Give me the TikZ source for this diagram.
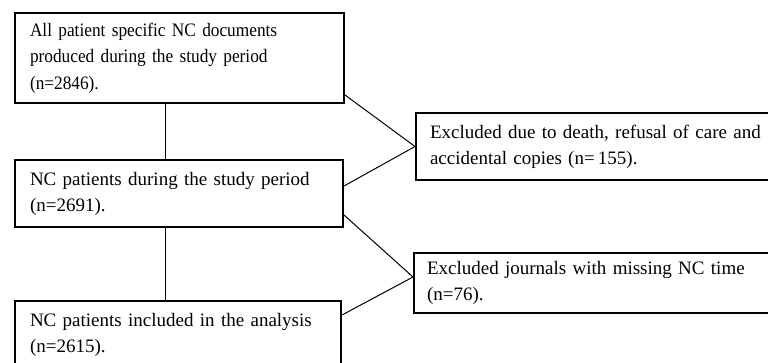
\documentclass[tikz,border=0pt]{standalone}
\usepackage{fontspec}
\setmainfont{Liberation Serif}
\newfontfamily\condserif[FakeStretch=0.91]{Liberation Serif}
\begin{document}
\begin{tikzpicture}[x=1bp,y=-1bp,
  box/.style={draw=black,line width=2bp,rectangle,anchor=north west,
    inner xsep=15bp,inner ysep=0bp,align=left,
    font=\fontsize{19bp}{26bp}\selectfont},
  conn/.style={draw=black,line width=1bp}]
\useasboundingbox (0,0) rectangle (768,362);
\clip (0,0) rectangle (768,362);
\fill[white] (0,0) rectangle (768,362);
\node[box,font=\condserif\fontsize{19bp}{26.5bp}\selectfont,minimum width=329bp,minimum height=90bp,text width=299bp] (b1) at (14,12)
  {All patient specific NC documents\\produced during the study period\\(n=2846).};
\node[box,minimum width=328bp,minimum height=67bp,text width=298bp] (b2) at (14,159)
  {NC patients during the study period\\(n=2691).};
\node[box,minimum width=326bp,minimum height=67bp,text width=296bp] (b3) at (14,300)
  {NC patients included in the analysis\\(n=2615).};
\node[box,inner xsep=14bp,minimum width=370bp,minimum height=67bp,text width=342bp] (e1) at (415,112)
  {Excluded due to death, refusal of care and\\accidental copies (n=\,155).};
\node[box,inner xsep=13bp,minimum width=370bp,minimum height=60bp,text width=344bp] (e2) at (413,252)
  {Excluded journals with missing NC time\\(n=76).};
\draw[conn] ([xshift=151bp]b1.south west) -- ([xshift=151bp]b2.north west);
\draw[conn] ([xshift=151bp]b2.south west) -- ([xshift=151bp]b3.north west);
\draw[conn] ([yshift=9bp]b1.south east) -- (e1.west);
\draw[conn] ([yshift=-27bp]b2.north east) -- (e1.west);
\draw[conn] ([yshift=13bp]b2.south east) -- ([yshift=6bp]e2.west);
\draw[conn] ([yshift=-15bp]b3.north east) -- ([yshift=6bp]e2.west);
\end{tikzpicture}
\end{document}
